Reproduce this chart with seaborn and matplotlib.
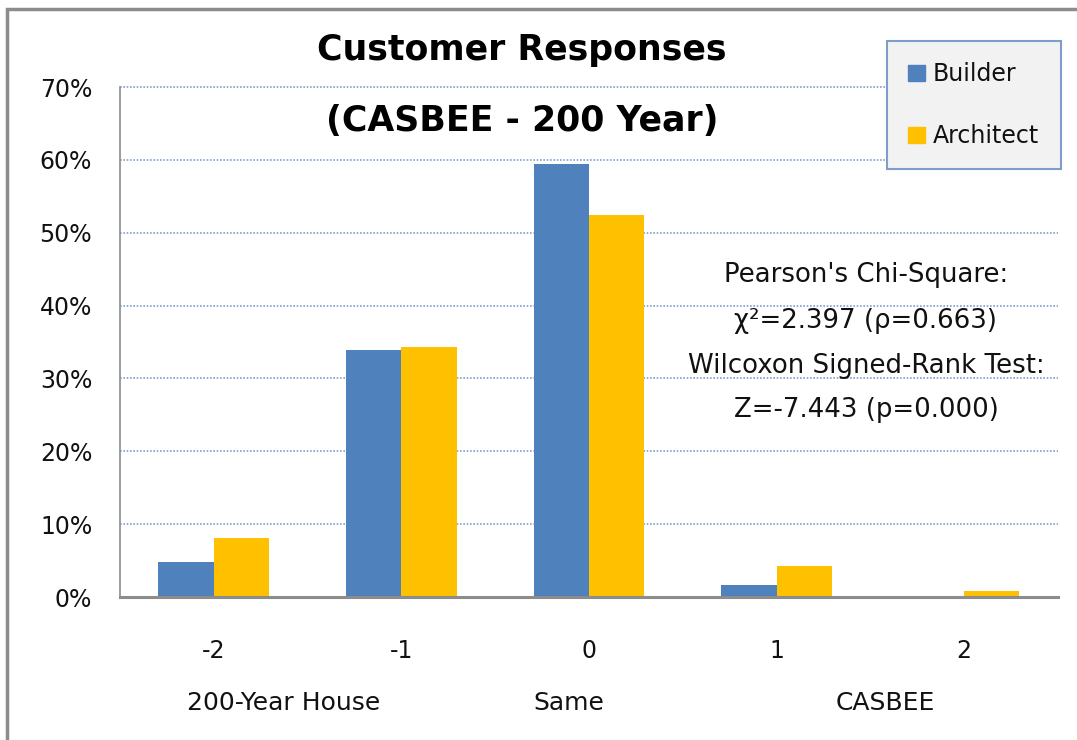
import matplotlib
matplotlib.use('Agg')
import matplotlib.pyplot as plt
import matplotlib.patches as mpatches
from matplotlib.ticker import PercentFormatter
import seaborn as sns
import pandas as pd

# values (percent of respondents)
responses = ['-2', '-1', '0', '1', '2']
builder = [4.8, 33.9, 59.4, 1.6, 0.0]
architect = [8.1, 34.3, 52.5, 4.3, 0.8]
groups = ['Builder', 'Architect']
colors = ['#4F81BD', '#FFC000']

# long format for seaborn
df = pd.DataFrame({
    'response': responses * 2,
    'share': builder + architect,
    'group': [groups[0]] * len(responses) + [groups[1]] * len(responses),
})

sns.set_style('white')
plt.rcParams['font.family'] = ['DejaVu Sans']
txt_color = '#111111'

fig = plt.figure(figsize=(10.77, 7.40), dpi=100)
ax = fig.add_axes([0.1114, 0.1932, 0.8709, 0.6892])

sns.barplot(data=df, x='response', y='share', hue='group', order=responses,
            hue_order=groups, palette=colors, saturation=1, width=0.59,
            errorbar=None, ax=ax, linewidth=0, legend=False)

ax.set_ylim(0, 70)
ax.set_xlim(-0.5, 4.5)
ax.set_yticks(range(0, 71, 10))
ax.yaxis.set_major_formatter(PercentFormatter(xmax=100, decimals=0))
ax.set_xlabel('')
ax.set_ylabel('')
ax.tick_params(axis='y', length=0, pad=20, labelsize=17, labelcolor=txt_color)
ax.tick_params(axis='x', length=0, pad=30, labelsize=17, labelcolor=txt_color)

# dotted gridlines
ax.yaxis.grid(True, color='#7FA0D0', linestyle=(0, (1, 1)), linewidth=1.2)
for gl in ax.yaxis.get_gridlines():
    gl.set_clip_on(False)
ax.set_axisbelow(True)
for side in ['top', 'right']:
    ax.spines[side].set_visible(False)
ax.spines['left'].set_color('#8C8C8C')
ax.spines['left'].set_linewidth(1.2)
ax.spines['bottom'].set_color('#8C8C8C')
ax.spines['bottom'].set_linewidth(2.2)

# axis end labels under the ticks
tr = ax.get_xaxis_transform()
ax.text(0.37, -0.208, '200-Year House', transform=tr, ha='center', va='center', fontsize=18, color=txt_color)
ax.text(1.89, -0.208, 'Same', transform=tr, ha='center', va='center', fontsize=18, color=txt_color)
ax.text(3.58, -0.208, 'CASBEE', transform=tr, ha='center', va='center', fontsize=18, color=txt_color)

# title
fig.text(0.4847, 1 - 60 / 740, 'Customer Responses', ha='center', va='baseline',
         fontsize=25, fontweight='bold', color='black')
fig.text(0.4847, 1 - 131 / 740, '(CASBEE - 200 Year)', ha='center', va='baseline',
         fontsize=25, fontweight='bold', color='black')

# statistics
stats = ["Pearson's Chi-Square:", 'χ²=2.397 (ρ=0.663)',
         'Wilcoxon Signed-Rank Test:', 'Z=-7.443 (p=0.000)']
for txt, ypx in zip(stats, [275, 321, 366, 410]):
    fig.text(866 / 1077, 1 - ypx / 740, txt, ha='center', va='center',
             fontsize=18.7, color=txt_color)

# legend
handles = [mpatches.Patch(color=c, label=g) for c, g in zip(colors, groups)]
leg = fig.legend(handles=handles, loc='upper left',
                 bbox_to_anchor=(887 / 1077, 1 - 41 / 740), borderaxespad=0,
                 fontsize=17, frameon=True, fancybox=False, framealpha=1,
                 handlelength=0.7, handleheight=0.7, handletextpad=0.35,
                 labelspacing=1.6, borderpad=0.9)
for t in leg.get_texts():
    t.set_color(txt_color)
leg.get_frame().set_facecolor('#F2F2F2')
leg.get_frame().set_edgecolor('#7F9DC9')
leg.get_frame().set_linewidth(1.5)
leg.set_zorder(5)

# outer chart border (left and top visible)
fig.add_artist(mpatches.Rectangle((7 / 1077, -0.1), 1.2, 1.1 - 8.5 / 740,
                                  transform=fig.transFigure, fill=False,
                                  edgecolor='#8C8C8C', linewidth=2.5))

fig.savefig('out.png', dpi=100)
